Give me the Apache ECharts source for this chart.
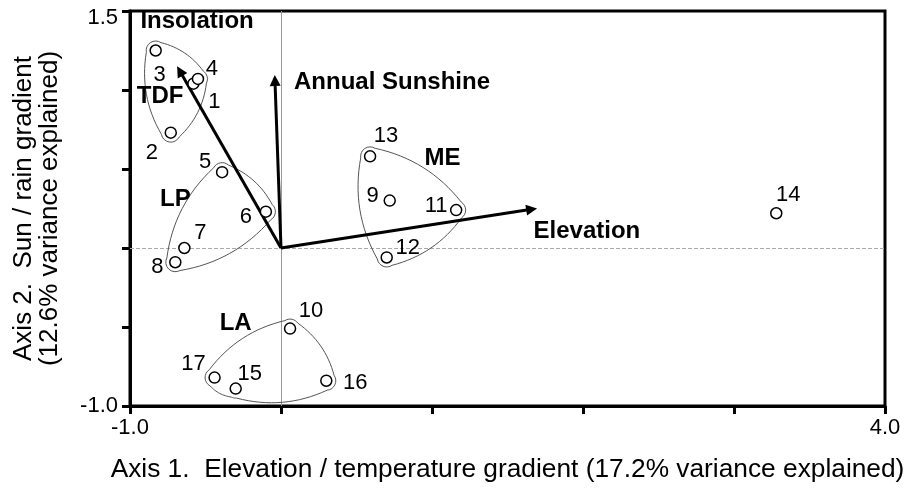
<!DOCTYPE html>
<html><head><meta charset="utf-8">
<script src="https://cdn.jsdelivr.net/npm/echarts@6/dist/echarts.min.js"></script>
<style>html,body{margin:0;padding:0;background:#fff}#c{width:909px;height:488px}</style>
</head><body><div id="c"></div>
<script>
// ---- data ----
const siteIds = ['1','2','3','4','5','6','7','8','9','10','11','12','13','14','15','16','17'];
const axis1Scores = [-0.58,-0.73,-0.83,-0.55,-0.39,-0.10,-0.64,-0.70,0.72,0.06,1.16,0.70,0.59,3.28,-0.30,0.30,-0.44];
const axis2Scores = [1.04,0.73,1.25,1.07,0.48,0.23,0.00,-0.09,0.30,-0.51,0.24,-0.06,0.58,0.22,-0.89,-0.84,-0.82];
const groupNames = ['TDF','LP','ME','LA'];
const groupMembers = [['1','2','3','4'],['5','6','7','8'],['9','11','12','13'],['10','15','16','17']];
const vectorNames = ['Insolation','Annual Sunshine','Elevation'];
const vectorAxis1 = [-0.67,-0.04,1.66];
const vectorAxis2 = [1.12,1.06,0.245];
const xTickLabels = {'-1':'-1.0','4':'4.0'};
const yTickLabels = {'-1':'-1.0','1.5':'{top|1.5}'};
const xTitle = 'Axis 1.  Elevation / temperature gradient (17.2% variance explained)';
const yTitle = 'Axis 2.  Sun / rain gradient\n(12.6% variance explained)';

// ---- layout (label placement, not data) ----
const siteLabelOffsets = [[21,18],[-19,20],[4,24],[14,-10],[-17,-10],[-20,5],[16,-15],[-18,5],[-17,-5],[21,-18],[-20,-4],[21,-10],[16,-20],[12,-18],[14,-15],[29,2],[-21,-14]];
const groupLabelPos = [[-0.80,0.96],[-0.70,0.31],[1.07,0.565],[-0.30,-0.476]];
const vectorLabelPos = [[-0.556,1.434],[0.735,1.047],[2.026,0.108]];

const FONT = '"Liberation Sans", Arial, Helvetica, sans-serif';
const chart = echarts.init(document.getElementById('c'), null, {renderer:'canvas'});

const siteData = siteIds.map((id,i)=>({
  name:id, value:[axis1Scores[i], axis2Scores[i]],
  label:{offset:siteLabelOffsets[i]}
}));

const annotNames = groupNames.concat(vectorNames);
const annotPos = groupLabelPos.concat(vectorLabelPos);

const vectorData = vectorNames.map((v,i)=>({name:v, coords:[[0,0],[vectorAxis1[i],vectorAxis2[i]]]}));

function convexHull(P){
  const p = P.slice().sort((a,b)=>a[0]-b[0]||a[1]-b[1]);
  const cross=(o,a,b)=>(a[0]-o[0])*(b[1]-o[1])-(a[1]-o[1])*(b[0]-o[0]);
  const lower=[],upper=[];
  for(const q of p){while(lower.length>=2&&cross(lower[lower.length-2],lower[lower.length-1],q)<=0)lower.pop();lower.push(q);}
  for(let i=p.length-1;i>=0;i--){const q=p[i];while(upper.length>=2&&cross(upper[upper.length-2],upper[upper.length-1],q)<=0)upper.pop();upper.push(q);}
  upper.pop();lower.pop();return lower.concat(upper);
}

function hullOutline(H, r){
  const n=H.length;
  let cx=0,cy=0;H.forEach(h=>{cx+=h[0];cy+=h[1];});cx/=n;cy/=n;
  const N=[],L=[];
  for(let k=0;k<n;k++){
    const a=H[k],b=H[(k+1)%n];
    const dx=b[0]-a[0],dy=b[1]-a[1];const len=Math.hypot(dx,dy)||1;
    let nx=dy/len,ny=-dx/len;
    const mx=(a[0]+b[0])/2,my=(a[1]+b[1])/2;
    if((mx-cx)*nx+(my-cy)*ny<0){nx=-nx;ny=-ny;}
    N.push([nx,ny]);L.push(len);
  }
  const out=[];
  for(let k=0;k<n;k++){
    const pN=N[(k-1+n)%n],cN=N[k],P=H[k];
    const a0=Math.atan2(pN[1],pN[0]);let d=Math.atan2(cN[1],cN[0])-a0;
    while(d>Math.PI)d-=2*Math.PI;while(d<=-Math.PI)d+=2*Math.PI;
    for(let s=0;s<=8;s++){const ang=a0+d*s/8;out.push([P[0]+r*Math.cos(ang),P[1]+r*Math.sin(ang)]);}
    const Q=H[(k+1)%n];const b=0.09*L[k];
    const S=[P[0]+r*cN[0],P[1]+r*cN[1]],E=[Q[0]+r*cN[0],Q[1]+r*cN[1]];
    const C=[(P[0]+Q[0])/2+(r+2*b)*cN[0],(P[1]+Q[1])/2+(r+2*b)*cN[1]];
    for(let s=1;s<16;s++){const t=s/16,u=1-t;
      out.push([u*u*S[0]+2*u*t*C[0]+t*t*E[0],u*u*S[1]+2*u*t*C[1]+t*t*E[1]]);}
  }
  return out;
}

const option = {
  backgroundColor:'#fff',
  animation:false,
  grid:{left:130,right:24,top:11,bottom:82,show:true,borderColor:'#000',borderWidth:3,outerBoundsMode:'none'},
  xAxis:{
    type:'value',min:-1,max:4,interval:1,
    axisLine:{show:true,onZero:false,lineStyle:{color:'#000',width:3}},
    axisTick:{show:true,length:8,lineStyle:{color:'#000',width:3}},
    axisLabel:{formatter:v=>xTickLabels[String(v)]||'',fontSize:22,color:'#000',fontFamily:FONT,margin:11},
    splitLine:{show:false},
    name:xTitle,nameLocation:'middle',nameGap:51,
    nameTextStyle:{fontSize:26.3,color:'#000',fontFamily:FONT}
  },
  yAxis:{
    type:'value',min:-1,max:1.5,interval:0.5,
    axisLine:{show:true,onZero:false,lineStyle:{color:'#000',width:3}},
    axisTick:{show:true,length:8,lineStyle:{color:'#000',width:3}},
    axisLabel:{formatter:v=>yTickLabels[String(v)]||'',fontSize:22,color:'#000',fontFamily:FONT,margin:12,
      rich:{top:{fontSize:22,color:'#000',fontFamily:FONT,padding:[14,0,0,0]}}},
    splitLine:{show:false},
    name:yTitle,nameLocation:'middle',nameGap:67,nameRotate:90,
    nameTextStyle:{fontSize:26,lineHeight:26,color:'#000',fontFamily:FONT}
  },
  series:[
    {
      type:'custom',name:'groups',coordinateSystem:'cartesian2d',clip:false,silent:true,z:2,
      data:groupNames.map(()=>[0,0]),
      renderItem:(params,api)=>{
        const members=groupMembers[params.dataIndex];
        const pts=members.map(id=>{const i=siteIds.indexOf(id);return api.coord([axis1Scores[i],axis2Scores[i]]);});
        const H=convexHull(pts);
        return {type:'polygon',shape:{points:hullOutline(H,9.5)},style:{fill:'none',stroke:'#555',lineWidth:1}};
      }
    },
    {
      type:'lines',name:'vectors',coordinateSystem:'cartesian2d',silent:true,z:3,
      symbol:['none','triangle'],symbolSize:[0,11],
      lineStyle:{color:'#000',width:3,opacity:1,curveness:0},
      data:vectorData
    },
    {
      type:'scatter',name:'sites',z:4,silent:true,
      symbol:'circle',symbolSize:11,
      itemStyle:{color:'#fff',borderColor:'#000',borderWidth:1.5,opacity:1},
      label:{show:true,position:'inside',formatter:'{b}',fontSize:22,color:'#000',fontFamily:FONT,textBorderWidth:0},
      data:siteData,
      markLine:{
        silent:true,symbol:'none',label:{show:false},z:1,
        data:[
          {xAxis:0,lineStyle:{color:'#999',width:1,type:'solid'}},
          {yAxis:0,lineStyle:{color:'#aaa',width:1,type:[4,2]}}
        ]
      }
    },
    {
      type:'custom',name:'labels',coordinateSystem:'cartesian2d',clip:false,silent:true,z:5,
      data:annotPos.map(p=>p.slice()),
      renderItem:(params,api)=>{
        const p=api.coord([api.value(0),api.value(1)]);
        return {type:'text',x:p[0],y:p[1],
          style:{text:annotNames[params.dataIndex],fill:'#000',fontSize:24,fontWeight:'bold',fontFamily:FONT,
            align:'center',verticalAlign:'middle',textAlign:'center',textVerticalAlign:'middle'}};
      }
    }
  ]
};
chart.setOption(option);
</script></body></html>
